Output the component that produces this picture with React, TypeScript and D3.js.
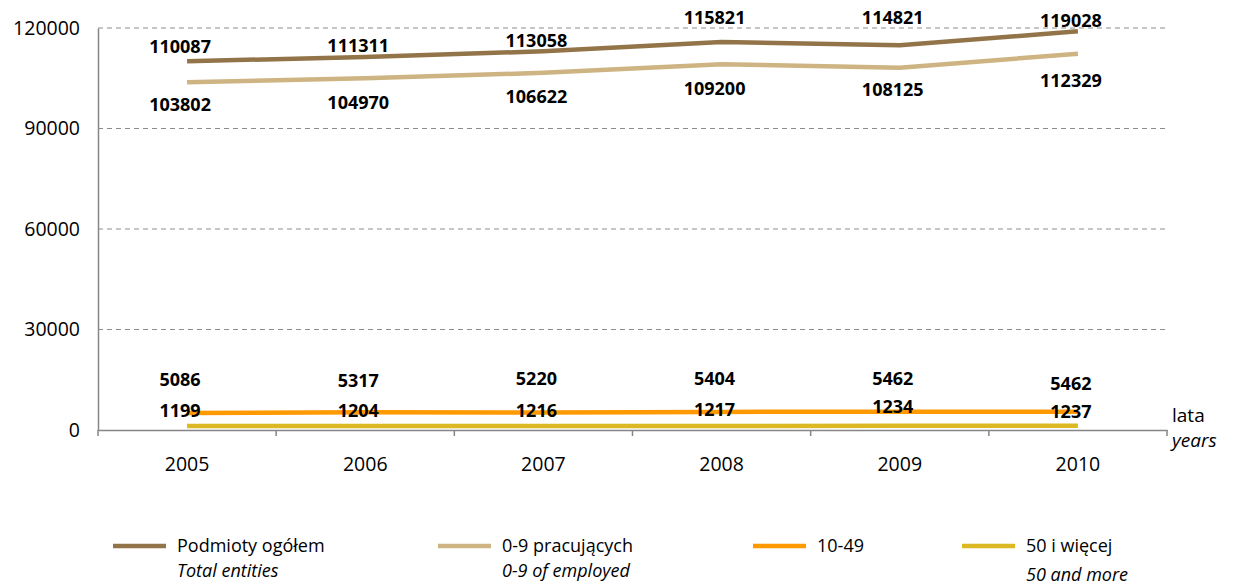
import * as d3 from 'd3';
import React, { useEffect, useRef } from 'react';

const years = ['2005', '2006', '2007', '2008', '2009', '2010'];
const totalEntities = [110087, 111311, 113058, 115821, 114821, 119028];
const employed0to9 = [103802, 104970, 106622, 109200, 108125, 112329];
const employed10to49 = [5086, 5317, 5220, 5404, 5462, 5462];
const employed50plus = [1199, 1204, 1216, 1217, 1234, 1237];
const yTicks = [0, 30000, 60000, 90000, 120000];

// label nudges in px (hand placed in the original)
const totalLabelDy = [-15, -11, -11, -24, -28, -11];
const small09LabelDy = [22, 24, 24, 25, 22, 27];
const labelDy1049 = [-33, -31, -34, -33, -33, -28];
const labelDy50 = [-15, -15, -15, -16, -19, -14];

const series = [
  { name: 'Podmioty ogółem', en: 'Total entities', values: totalEntities, color: '#937449', dy: totalLabelDy },
  { name: '0-9 pracujących', en: '0-9 of employed', values: employed0to9, color: '#CDB482', dy: small09LabelDy },
  { name: '10-49', en: '', values: employed10to49, color: '#FF9900', dy: labelDy1049 },
  { name: '50 i więcej', en: '50 and more', values: employed50plus, color: '#DCB923', dy: labelDy50 },
];

const font = '"Open Sans", sans-serif';

export default function App() {
  const svgRef = useRef<SVGSVGElement>(null);

  useEffect(() => {
    const svg = d3.select(svgRef.current).html('');
    const left = 98, right = 1167, top = 28, bottom = 430;

    const x = d3.scaleBand().domain(years).range([left, right]);
    const y = d3.scaleLinear().domain([0, 120000]).range([bottom, top]);

    // grid
    svg.append('g')
      .selectAll('line')
      .data(yTicks.filter(t => t > 0))
      .enter().append('line')
      .attr('x1', left).attr('x2', right)
      .attr('y1', d => y(d)).attr('y2', d => y(d))
      .attr('stroke', '#8c8c8c')
      .attr('stroke-width', 1)
      .attr('stroke-dasharray', '5,4');

    // y axis
    const yAxis = svg.append('g')
      .attr('transform', `translate(${left},0)`)
      .call(d3.axisLeft(y).tickValues(yTicks).tickSize(0).tickPadding(18).tickFormat(d3.format('d')));
    yAxis.select('.domain').attr('stroke', '#868686').attr('stroke-width', 1.5);
    yAxis.selectAll('text')
      .attr('font-family', font).attr('font-size', 19.5).attr('fill', '#000');

    // x axis
    const xAxis = svg.append('g')
      .attr('transform', `translate(0,${bottom})`)
      .call(d3.axisBottom(x).tickSize(0).tickPadding(27));
    xAxis.select('.domain').attr('stroke', '#868686').attr('stroke-width', 1.5);
    xAxis.selectAll('text')
      .attr('font-family', font).attr('font-size', 19.5).attr('fill', '#000');
    xAxis.selectAll('line.sep')
      .data(d3.range(years.length + 1))
      .enter().append('line')
      .attr('class', 'sep')
      .attr('x1', i => left + i * x.step()).attr('x2', i => left + i * x.step())
      .attr('y1', 0).attr('y2', 6)
      .attr('stroke', '#868686').attr('stroke-width', 1.5);

    const cx = (d: string) => x(d)! + x.bandwidth() / 2;

    const line = d3.line<number>()
      .x((_, i) => cx(years[i]))
      .y(v => y(v));

    svg.append('g')
      .selectAll('path')
      .data(series)
      .enter().append('path')
      .attr('d', s => line(s.values))
      .attr('fill', 'none')
      .attr('stroke', s => s.color)
      .attr('stroke-width', 4.5);

    // data labels
    series.forEach(s => {
      svg.append('g')
        .selectAll('text')
        .data(s.values)
        .enter().append('text')
        .attr('x', (_, i) => cx(years[i]) - 7)
        .attr('y', (v, i) => y(v) + s.dy[i])
        .attr('dy', '0.35em')
        .attr('text-anchor', 'middle')
        .attr('font-family', font)
        .attr('font-weight', 'bold')
        .attr('font-size', 18)
        .text(v => String(v));
    });

    // axis unit
    svg.append('text').attr('x', 1172).attr('y', 422)
      .attr('font-family', font).attr('font-size', 19).text('lata');
    svg.append('text').attr('x', 1172).attr('y', 447)
      .attr('font-family', font).attr('font-size', 19).attr('font-style', 'italic').text('years');

    // legend
    const legendX = [113, 438, 753, 962];
    const leg = svg.append('g')
      .selectAll('g')
      .data(series)
      .enter().append('g')
      .attr('transform', (_, i) => `translate(${legendX[i]},0)`);
    leg.append('line')
      .attr('x1', 0).attr('x2', 53)
      .attr('y1', 546).attr('y2', 546)
      .attr('stroke', s => s.color)
      .attr('stroke-width', 4.5);
    leg.append('text')
      .attr('x', 64).attr('y', 552)
      .attr('font-family', font).attr('font-size', 18)
      .text(s => s.name);
    leg.append('text')
      .attr('x', 64).attr('y', (_, i) => (i === 3 ? 581 : 577))
      .attr('font-family', font).attr('font-size', 18).attr('font-style', 'italic')
      .text(s => s.en);
  }, []);

  return (
    <svg
      ref={svgRef}
      width={1234}
      height={586}
      style={{ position: 'absolute', left: 0, top: 0, background: '#fff' }}
    />
  );
}
